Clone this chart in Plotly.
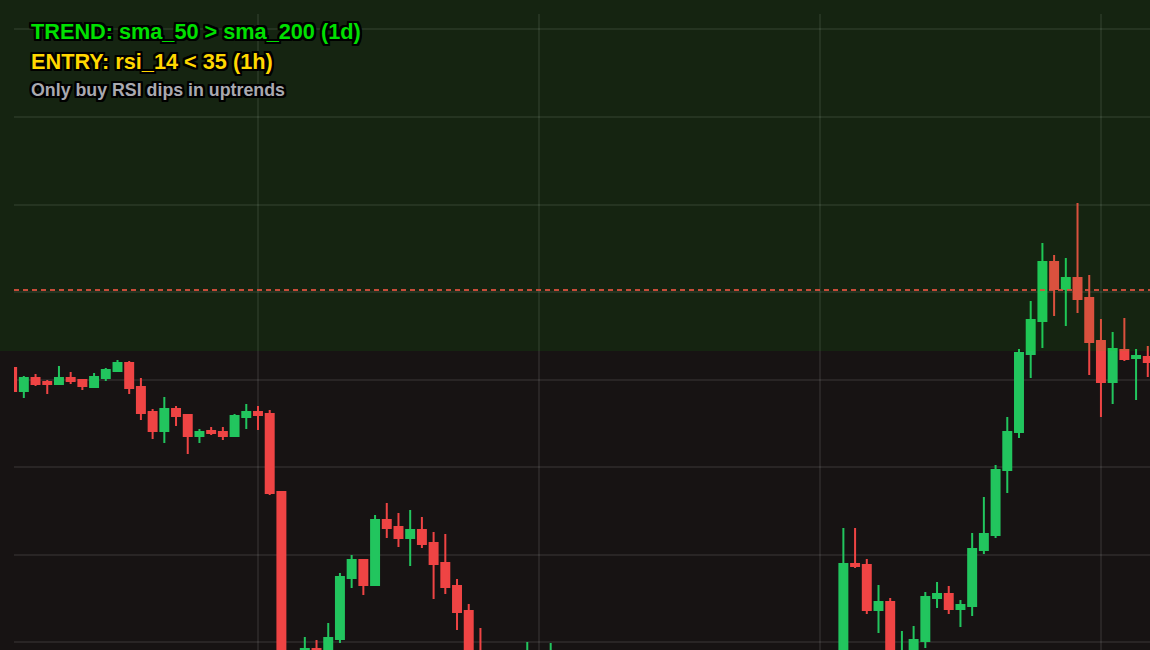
import plotly.graph_objects as go

# ---------------- data ----------------
candle_index = list(range(98))
open_ = [131.31, 128.69, 130.17, 129.71, 129.49, 130.17, 129.94, 129.14, 130.17, 130.97,
         131.89, 129.14, 126.29, 124.11, 126.63, 125.94, 123.54, 124.11, 124.00, 123.54,
         125.71, 126.29, 126.06, 117.14, 96.50, 95.20, 99.20, 96.80, 100.34, 107.31,
         109.37, 106.51, 113.94, 113.14, 111.89, 112.80, 111.31, 109.03, 106.40, 103.54,
         98.40, 96.40, 94.50, 95.60, 96.00, 98.20, 96.50, 98.40, 96.30, 93.80,
         94.60, 92.40, 93.10, 91.00, 90.30, 91.80, 91.10, 93.00, 92.60, 94.30,
         93.40, 92.00, 93.50, 95.20, 94.30, 95.50, 96.60, 95.70, 96.50, 96.00,
         97.30, 97.50, 108.91, 108.80, 103.66, 104.57, 98.20, 98.60, 100.11, 105.03,
         105.49, 103.77, 104.11, 110.51, 112.23, 119.66, 124.00, 132.91, 136.69, 143.43,
         140.34, 141.60, 139.31, 134.40, 129.71, 133.37, 132.46, 132.57]
high = [131.40, 130.40, 130.63, 129.94, 131.54, 130.86, 130.06, 130.74, 131.31, 132.23,
        132.11, 130.17, 126.63, 128.00, 126.97, 126.06, 124.34, 124.57, 124.57, 126.06,
        127.20, 126.97, 126.51, 117.20, 97.80, 100.57, 100.23, 102.17, 107.89, 109.94,
        109.37, 114.51, 115.89, 114.74, 115.09, 114.29, 112.57, 112.34, 107.20, 104.34,
        101.60, 97.20, 96.00, 97.00, 100.00, 98.60, 99.89, 98.80, 96.90, 95.10,
        95.30, 93.70, 93.90, 92.20, 92.40, 92.60, 93.50, 94.40, 94.90, 95.10,
        94.00, 93.80, 95.60, 96.00, 95.80, 97.10, 97.40, 96.90, 97.60, 97.80,
        98.10, 113.03, 113.03, 109.49, 106.51, 105.03, 101.26, 101.83, 105.71, 106.86,
        106.40, 104.80, 112.46, 116.57, 120.23, 125.71, 133.49, 138.97, 145.60, 144.23,
        143.89, 150.17, 141.94, 136.91, 135.43, 137.03, 133.49, 133.83]
low = [128.60, 127.89, 129.26, 128.34, 129.37, 129.49, 128.80, 129.14, 129.83, 130.97,
       128.34, 125.37, 123.20, 122.74, 124.69, 121.49, 122.74, 123.66, 123.09, 123.54,
       124.34, 124.23, 116.80, 95.80, 94.60, 94.80, 96.00, 96.20, 99.89, 106.17,
       105.37, 106.51, 111.89, 110.86, 108.69, 110.74, 104.91, 105.49, 101.37, 97.00,
       95.90, 93.80, 93.50, 94.80, 95.50, 96.00, 95.80, 95.90, 93.20, 92.60,
       91.80, 91.20, 90.40, 89.70, 89.90, 90.50, 90.80, 92.10, 92.20, 93.00,
       91.60, 91.50, 93.10, 93.90, 93.80, 95.00, 95.30, 94.90, 95.70, 95.40,
       96.50, 96.80, 108.46, 103.20, 101.03, 97.50, 97.00, 98.00, 99.31, 103.89,
       103.20, 101.71, 102.97, 110.06, 111.89, 117.03, 123.31, 130.17, 133.60, 137.26,
       136.11, 137.60, 130.51, 125.71, 127.20, 132.11, 127.66, 130.29]
close = [128.69, 130.17, 129.49, 129.49, 130.17, 129.83, 129.26, 130.29, 131.09, 131.89,
         129.03, 126.17, 124.11, 126.63, 125.83, 123.54, 124.00, 123.89, 123.54, 125.83,
         126.29, 125.94, 117.03, 96.50, 95.20, 99.20, 96.80, 100.46, 107.43, 109.37,
         106.51, 113.94, 113.03, 111.89, 112.80, 111.20, 108.91, 106.29, 103.43, 97.80,
         96.40, 94.50, 95.60, 96.00, 98.20, 96.50, 98.40, 96.30, 93.80, 94.60,
         92.40, 93.10, 91.00, 90.30, 91.80, 91.10, 93.00, 92.60, 94.30, 93.40,
         92.00, 93.50, 95.20, 94.30, 95.50, 96.60, 95.70, 96.50, 96.00, 97.30,
         97.50, 108.91, 108.69, 103.66, 104.57, 98.20, 98.90, 100.23, 105.14, 105.49,
         103.77, 104.23, 110.63, 112.34, 119.66, 124.00, 133.03, 136.80, 143.43, 140.34,
         141.60, 139.20, 134.29, 129.71, 133.49, 132.34, 132.69, 132.00]

trend_zone_floor = 133.26   # shaded "trend" zone lower bound
entry_level = 140.23        # dashed reference level

title_lines = ["TREND: sma_50 > sma_200 (1d)", "ENTRY: rsi_14 < 35 (1h)", "Only buy RSI dips in uptrends"]

# ---------------- style ----------------
W, H = 1150, 650
ML, MT = 14, 14
BG = "#171313"
GRID = "rgba(255,255,255,0.08)"
GREEN = "#22c55e"
RED = "#ef4444"
X_RANGE = [0.16, 97.19]
Y_RANGE = [99.09, 171.77]

plot_w = W - ML
plot_h = H - MT

fig = go.Figure(go.Candlestick(
    x=candle_index, open=open_, high=high, low=low, close=close,
    increasing=dict(line=dict(color=GREEN, width=2), fillcolor=GREEN),
    decreasing=dict(line=dict(color=RED, width=2), fillcolor=RED),
    whiskerwidth=0, showlegend=False, hoverinfo="skip",
))

zone_y0 = (trend_zone_floor - Y_RANGE[0]) / (Y_RANGE[1] - Y_RANGE[0])

fig.add_shape(type="line", xref="paper", yref="y", x0=0, x1=1, y0=entry_level, y1=entry_level,
              line=dict(color=RED, width=2, dash="5px,4px"), opacity=0.9, layer="above")
fig.add_shape(type="rect", xref="paper", yref="paper", x0=-ML / plot_w, x1=1.0,
              y0=zone_y0, y1=(H) / plot_h, fillcolor="rgba(0,220,0,0.085)",
              line=dict(width=0), layer="above")

outline = ("-2px -2px 0 #000, 2px -2px 0 #000, -2px 2px 0 #000, 2px 2px 0 #000, "
           "0 2px 0 #000, 2px 0 0 #000, 0 -2px 0 #000, -2px 0 0 #000, "
           "-1px -2px 0 #000, 1px -2px 0 #000, -1px 2px 0 #000, 1px 2px 0 #000, "
           "-2px -1px 0 #000, 2px -1px 0 #000, -2px 1px 0 #000, 2px 1px 0 #000")
FAM = "Liberation Sans, Arial, sans-serif"
specs = [(title_lines[0], "#00e000", 21.7, 31.3),
         (title_lines[1], "#ffd700", 21.7, 61.2),
         (title_lines[2], "#a9a9b0", 17.8, 90.3)]
for txt, col, size, ypix in specs:
    fig.add_annotation(text=txt, xref="paper", yref="paper",
                       x=(29 - ML) / plot_w, y=(H - ypix) / plot_h,
                       xanchor="left", yanchor="middle", showarrow=False,
                       font=dict(family=FAM, size=size, color=col, weight=700, shadow=outline))

axis_common = dict(showgrid=True, gridcolor=GRID, gridwidth=2, showticklabels=False,
                   zeroline=False, showline=False, ticks="", automargin=False, fixedrange=True)
fig.update_layout(
    width=W, height=H,
    margin=dict(l=ML, r=0, t=MT, b=0, pad=0),
    paper_bgcolor=BG, plot_bgcolor=BG,
    boxgap=0.15, boxgroupgap=0.2,
    xaxis=dict(range=X_RANGE, tick0=21, dtick=24, rangeslider=dict(visible=False), **axis_common),
    yaxis=dict(range=Y_RANGE, tick0=100, dtick=10, **axis_common),
)

fig.write_html("out.html", config={"displayModeBar": False},
               post_script="document.body.style.margin='0';document.body.style.background='#171313';")
